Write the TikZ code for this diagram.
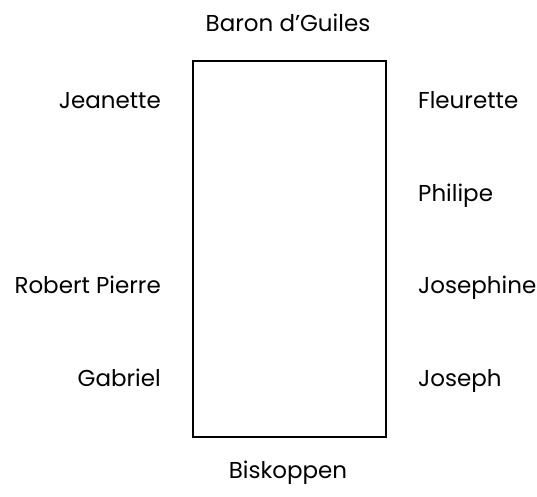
\documentclass[tikz,border=0pt]{standalone}
\usepackage{fontspec}
\setmainfont{Poppins}
\usetikzlibrary{positioning}

\begin{document}
\begin{tikzpicture}[x=1pt,y=-1pt,
  guest/.style={font=\fontsize{23}{26}\selectfont,inner sep=0pt},
  tablebox/.style={draw,line width=2pt,minimum width=193pt,minimum height=376pt,inner sep=0pt}]
  \useasboundingbox (0,0) rectangle (537,496);
  \node[tablebox] (tbl) at (289.5,249) {};
  \node[guest,anchor=base] (baron) at (288,31) {Baron d'Guiles};
  \node[guest,anchor=base] (bisk) at (288,478) {Biskoppen};
  \node[guest,anchor=base east] (jeanette) at (161,108) {Jeanette};
  \node[guest,anchor=base east] (robert) at (161,293) {Robert Pierre};
  \node[guest,anchor=base east] (gabriel) at (161,386) {Gabriel};
  \node[guest,anchor=base west] (fleurette) at (418,108) {Fleurette};
  \node[guest,anchor=base west] (philipe) at (418,201) {Philipe};
  \node[guest,anchor=base west] (josephine) at (418,293) {Josephine};
  \node[guest,anchor=base west] (joseph) at (418,386) {Joseph};
\end{tikzpicture}
\end{document}
